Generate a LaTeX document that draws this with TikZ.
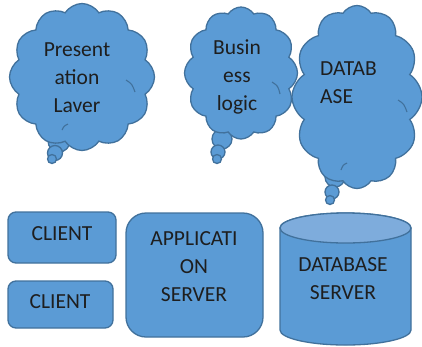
\documentclass[tikz,border=0pt]{standalone}
\usepackage{fontspec}
\setmainfont{Carlito}
\usetikzlibrary{shapes.symbols}
\definecolor{fillb}{HTML}{5B9BD5}
\definecolor{edgeb}{HTML}{41719C}
\definecolor{topb}{HTML}{7EACDC}
\definecolor{txt}{HTML}{1E1E1E}
\begin{document}
\begin{tikzpicture}[x=1pt,y=-1pt,
 cloudbox/.style={cloud, cloud puffs=12, cloud puff arc=115, draw=edgeb, fill=fillb, line width=1.3pt, inner sep=0pt},
 bubble/.style={circle, draw=edgeb, fill=fillb, line width=1.3pt, inner sep=0pt},
 inarc/.style={draw=edgeb, line width=1.1pt},
 lbl/.style={font=\fontsize{21.5}{28}\selectfont, text=txt, align=center, inner sep=0pt},
 rbox/.style={draw=edgeb, fill=fillb, line width=1.3pt, rounded corners=8pt}]
\path[use as bounding box] (0,0) rectangle (422,346);

% cloud 1
\node[bubble, minimum size=22pt] (b1a) at (59,141) {};
\node[bubble, minimum size=15pt] (b1b) at (55,153) {};
\node[bubble, minimum size=9pt] (b1c) at (52,159) {};
\node[cloudbox, minimum width=145pt, minimum height=147pt] (c1) at (82,77) {};
\draw[inarc] (62,130) .. controls (64,126) .. (68,124);
\draw[inarc] (126,80) .. controls (132,84) .. (135,92);
\node[lbl] (t1) at (77,78) {Present\\ation\\Laver};

% cloud 2
\node[bubble, minimum size=20pt] (b2a) at (222,139) {};
\node[bubble, minimum size=14pt] (b2b) at (218,152) {};
\node[bubble, minimum size=9pt] (b2c) at (217,159) {};
\node[cloudbox, minimum width=113pt, minimum height=132pt] (c2) at (241,73) {};
\draw[inarc] (272,82) .. controls (278,86) .. (280,94);
\node[lbl] (t2) at (237,77) {Busin\\ess\\logic};

% cloud 3
\node[bubble, minimum size=20pt] (b3a) at (335,177) {};
\node[bubble, minimum size=14pt] (b3b) at (332,192) {};
\node[bubble, minimum size=9pt] (b3c) at (330,200) {};
\node[cloudbox, minimum width=130pt, minimum height=183pt] (c3) at (357,97) {};
\draw[inarc] (398,100) .. controls (404,104) .. (407,112);
\draw[inarc] (341,170) .. controls (343,165) .. (347,163);
\node[lbl, align=left, anchor=west] (t3) at (320,83) {DATAB\\ASE};

% bottom boxes
\draw[rbox] (8,212) rectangle (116,263);
\node[lbl] (cl1) at (62,234) {CLIENT};
\draw[rbox] (8,281) rectangle (113,328);
\node[lbl] (cl2) at (60,302) {CLIENT};
\draw[rbox, rounded corners=20pt] (126,213) rectangle (263,337);
\node[lbl] (app) at (194,267) {APPLICATI\\ON\\SERVER};

% cylinder
\draw[draw=edgeb, fill=fillb, line width=1.3pt]
  (280,228) -- (280,330) arc[start angle=180, end angle=0, x radius=65.5, y radius=15] -- (411,228) arc[start angle=0, end angle=-180, x radius=65.5, y radius=15] -- cycle;
\draw[draw=edgeb, fill=topb, line width=1.3pt] (345.5,228) ellipse[x radius=65.5, y radius=15];
\node[lbl] (db) at (343,279) {DATABASE\\SERVER};
\end{tikzpicture}
\end{document}
